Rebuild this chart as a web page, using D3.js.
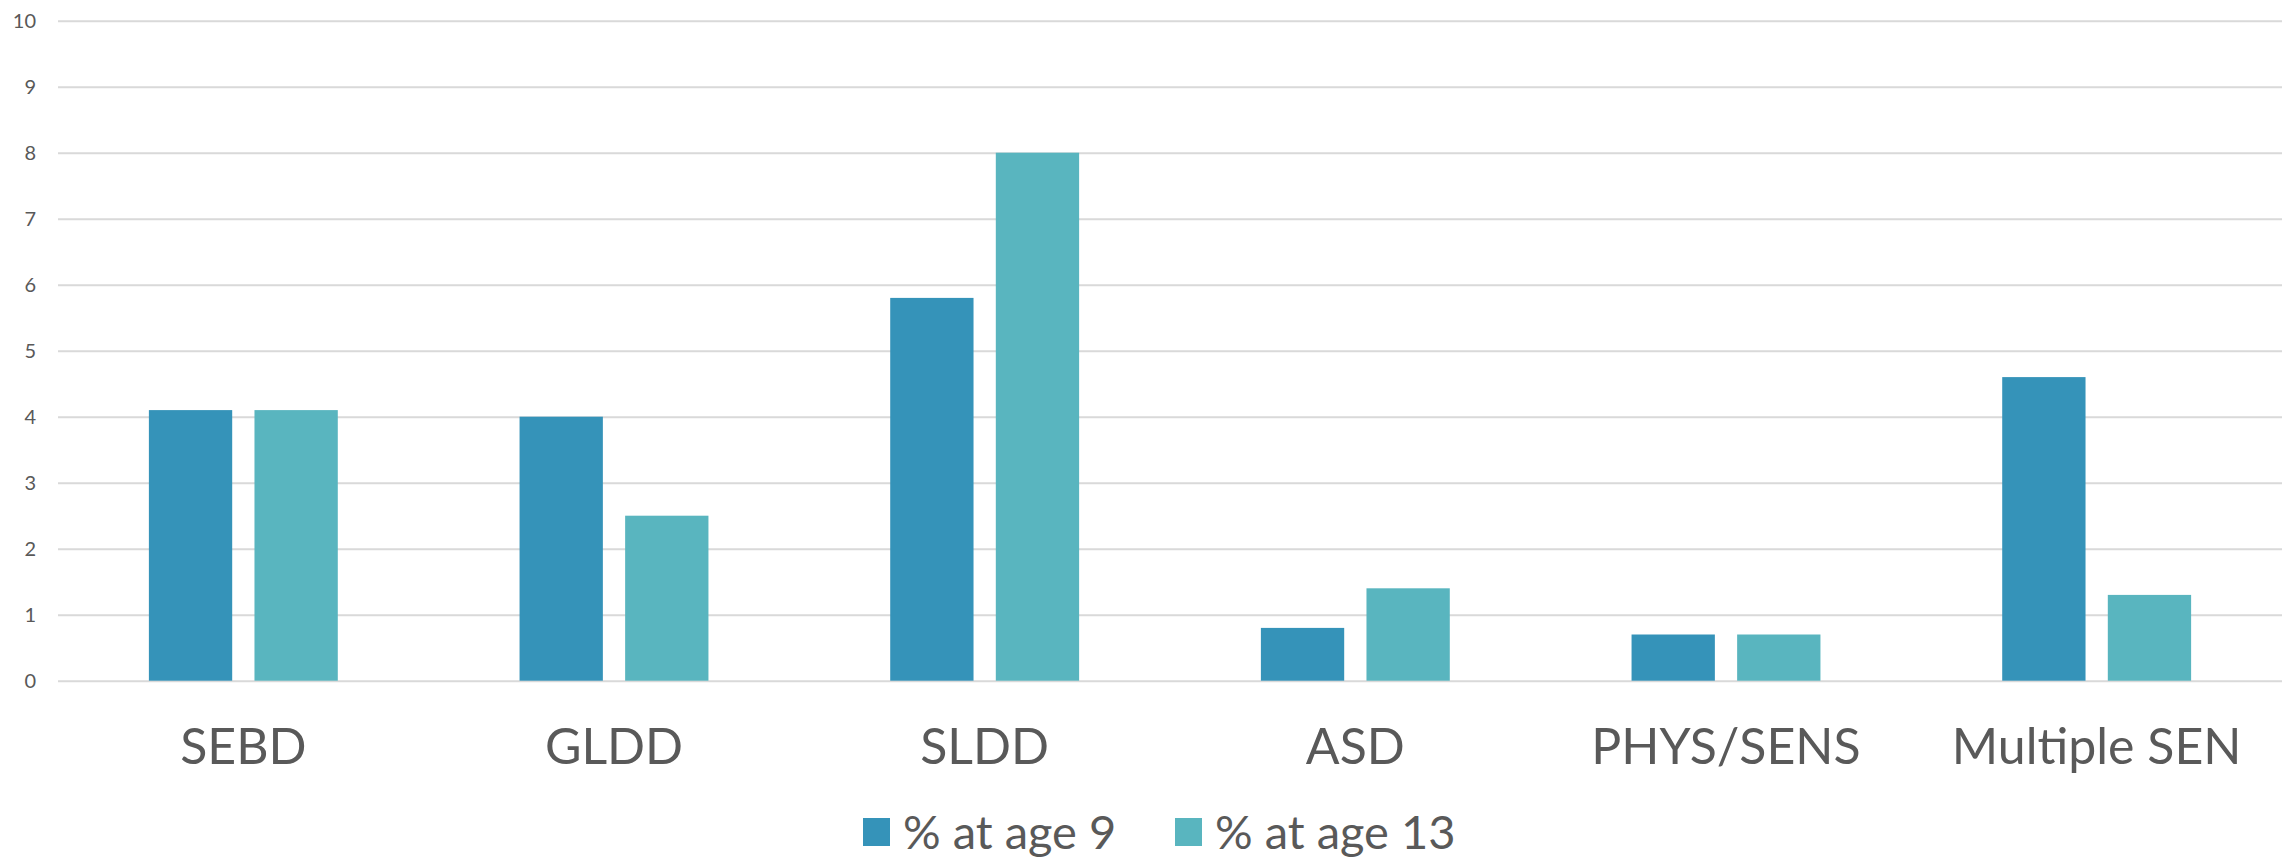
<!DOCTYPE html>
<html>
<head>
<meta charset="utf-8">
<script src="https://cdn.jsdelivr.net/npm/d3@7"></script>
<style>
  html, body { margin: 0; padding: 0; background: #ffffff; }
  svg { display: block; font-family: "Lato", "Open Sans", sans-serif; }
</style>
</head>
<body>
<svg id="chart" width="2295" height="861"></svg>
<script>
// Share of pupils in each SEN category, by age
const categories = ["SEBD", "GLDD", "SLDD", "ASD", "PHYS/SENS", "Multiple SEN"];
const seriesNames = ["% at age 9", "% at age 13"];
const age9 = [4.1, 4.0, 5.8, 0.8, 0.7, 4.6];
const age13 = [4.1, 2.5, 8.0, 1.4, 0.7, 1.3];
const yTicks = [0, 1, 2, 3, 4, 5, 6, 7, 8, 9, 10];
const colors = ["#3593b9", "#59b5bf"];

const svg = d3.select("#chart");
const plot = { left: 58, right: 2282, top: 20.7, bottom: 680.7 };

const y = d3.scaleLinear().domain([0, 10]).range([plot.bottom, plot.top]);
const x0 = d3.scaleBand().domain(categories).range([plot.left, plot.right]).padding(0);
const groupWidth = 188.9;
const x1 = d3.scaleBand().domain(seriesNames)
  .range([(x0.bandwidth() - groupWidth) / 2, (x0.bandwidth() + groupWidth) / 2])
  .paddingInner(0.211).paddingOuter(0);

// horizontal gridlines with value labels on the left
const yAxis = d3.axisLeft(y).tickValues(yTicks).tickSize(-(plot.right - plot.left)).tickPadding(22);
const gy = svg.append("g").attr("transform", `translate(${plot.left},0)`).call(yAxis);
gy.select(".domain").remove();
gy.selectAll(".tick line").attr("stroke", "#d9d9d9").attr("stroke-width", 2);
gy.selectAll(".tick text").attr("fill", "#595959").attr("font-size", 20)
  .attr("font-family", "Lato, sans-serif");

// bars
const rows = categories.map((c, i) => ({ cat: c, vals: [age9[i], age13[i]] }));
const groups = svg.append("g").selectAll("g").data(rows).join("g")
  .attr("transform", d => `translate(${x0(d.cat)},0)`);
groups.selectAll("rect")
  .data(d => d.vals.map((v, j) => ({ key: seriesNames[j], v, j })))
  .join("rect")
  .attr("x", d => x1(d.key))
  .attr("width", x1.bandwidth())
  .attr("y", d => y(d.v))
  .attr("height", d => y(0) - y(d.v))
  .attr("fill", d => colors[d.j]);

// category labels
const xAxis = d3.axisBottom(x0).tickSize(0).tickPadding(0);
const gx = svg.append("g").attr("transform", `translate(0,${plot.bottom})`).call(xAxis);
gx.select(".domain").remove();
gx.selectAll(".tick text").attr("fill", "#595959").attr("font-size", 50)
  .attr("font-family", "Lato, sans-serif").attr("dy", 0).attr("y", 83);

// legend
const legendItems = [
  { name: seriesNames[0], color: colors[0], x: 863 },
  { name: seriesNames[1], color: colors[1], x: 1175 }
];
const lg = svg.append("g");
legendItems.forEach(it => {
  lg.append("rect").attr("x", it.x).attr("y", 818).attr("width", 27).attr("height", 28)
    .attr("fill", it.color);
  lg.append("text").attr("x", it.x + 40).attr("y", 849)
    .attr("fill", "#595959").attr("font-size", 47)
    .attr("font-family", "Lato, sans-serif").text(it.name);
});
</script>
</body>
</html>
